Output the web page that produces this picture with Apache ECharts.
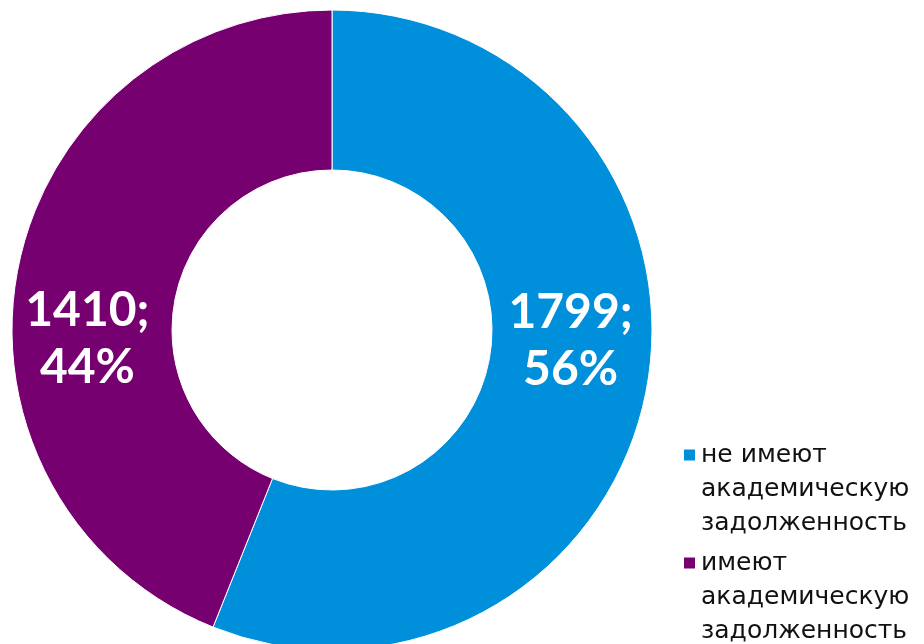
<!DOCTYPE html>
<html>
<head>
<meta charset="utf-8">
<script src="https://cdn.jsdelivr.net/npm/echarts@6/dist/echarts.min.js"></script>
<style>
  html, body { margin: 0; padding: 0; background: #fff; }
  #chart { width: 924px; height: 644px; }
</style>
</head>
<body>
<div id="chart"></div>
<script>
// data
var categories = ['не имеют\nакадемическую\nзадолженность', 'имеют\nакадемическую\nзадолженность'];
var values = [1799, 1410];
var colors = ['#008FDA', '#770070'];

var myChart = echarts.init(document.getElementById('chart'));

var pieData = [];
for (let i = 0; i < values.length; i++) {
  pieData.push({ name: categories[i], value: values[i], itemStyle: { color: colors[i] } });
}

var option = {
  animation: false,
  legend: {
    orient: 'vertical',
    left: 682,
    top: 370,
    height: 320,
    padding: 0,
    icon: 'rect',
    itemWidth: 13,
    itemHeight: 13,
    itemGap: -62,
    data: categories,
    // two empty lines on top so the square lines up with the first text line
    formatter: function (name) {
      return '\n\n' + name;
    },
    textStyle: {
      fontFamily: 'DejaVu Sans',
      fontSize: 25,
      lineHeight: 34,
      color: '#111'
    }
  },
  series: [
    {
      type: 'pie',
      center: [332, 330],
      radius: [160, 320],
      startAngle: 90,
      clockwise: true,
      percentPrecision: 0,
      itemStyle: {
        borderColor: '#fff',
        borderWidth: 1
      },
      label: {
        show: true,
        position: 'inside',
        formatter: '{c};\n{d}%',
        color: '#fff',
        fontFamily: 'Lato',
        fontWeight: 'bold',
        fontSize: 48,
        lineHeight: 57,
        align: 'center'
      },
      labelLayout: function (params) {
        return params.dataIndex === 0 ? { dy: -35 } : { dx: -6, dy: 55 };
      },
      labelLine: { show: false },
      data: pieData
    }
  ]
};
option && myChart.setOption(option);
</script>
</body>
</html>
